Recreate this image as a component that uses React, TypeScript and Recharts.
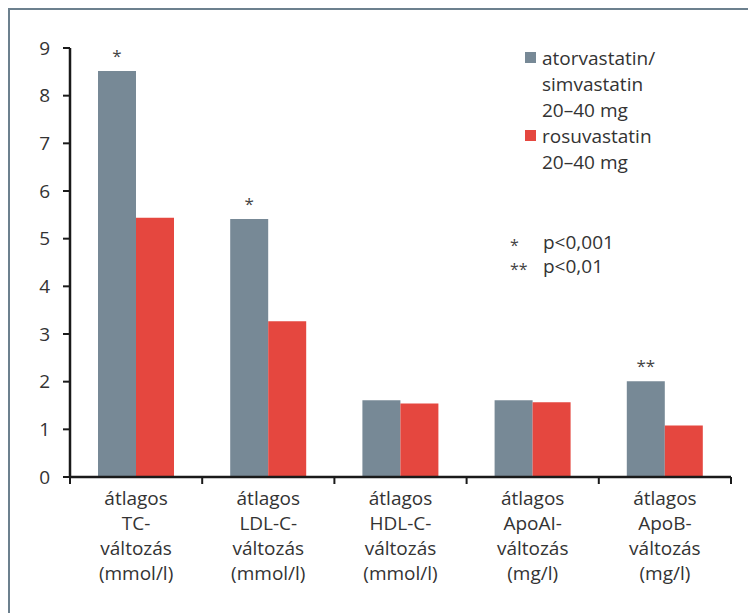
import React from 'react';
import { BarChart, Bar, XAxis, YAxis, Legend, LabelList } from 'recharts';

const categories = ['TC', 'LDL-C', 'HDL-C', 'ApoAI', 'ApoB'];
const categoryLabelLines = [
  ['átlagos', 'TC-', 'változás', '(mmol/l)'],
  ['átlagos', 'LDL-C-', 'változás', '(mmol/l)'],
  ['átlagos', 'HDL-C-', 'változás', '(mmol/l)'],
  ['átlagos', 'ApoAI-', 'változás', '(mg/l)'],
  ['átlagos', 'ApoB-', 'változás', '(mg/l)'],
];
const atorvaSimva = [8.52, 5.41, 1.61, 1.61, 2.01];
const rosuva = [5.44, 3.27, 1.54, 1.57, 1.08];
const significance = ['*', '*', '', '', '**'];
const yTicks = [0, 1, 2, 3, 4, 5, 6, 7, 8, 9];

const seriesNames = ['atorvastatin/\nsimvastatin\n20–40 mg', 'rosuvastatin\n20–40 mg'];
const pNotes = [
  ['*', 'p<0,001'],
  ['**', 'p<0,01'],
];

const GREY = '#778996';
const RED = '#e5473f';
const TEXT = '#333333';
const AXIS = '#1a1a1a';
const FONT = '"Open Sans", sans-serif';

const data = categories.map((c, i) => ({
  name: c,
  a: atorvaSimva[i],
  r: rosuva[i],
  sig: significance[i],
}));

const CategoryTick = (props: any) => {
  const { x, y, payload, index, width, visibleTicksCount } = props;
  const lines = categoryLabelLines[index] || [payload.value];
  const count = visibleTicksCount || categories.length;
  const half = Number(width) / count / 2;
  const isLast = index === count - 1;
  return (
    <g>
      {isFinite(half) && (
        <line x1={x - half} x2={x - half} y1={y} y2={y + 7} stroke={AXIS} strokeWidth={2} />
      )}
      {isFinite(half) && isLast && (
        <line x1={x + half} x2={x + half} y1={y} y2={y + 7} stroke={AXIS} strokeWidth={2} />
      )}
      <text x={x} y={y + 28} textAnchor="middle" fill={TEXT} fontSize={19} fontFamily={FONT}>
        {lines.map((l: string, i: number) => (
          <tspan key={i} x={x} dy={i === 0 ? 0 : 25}>
            {l}
          </tspan>
        ))}
      </text>
    </g>
  );
};

const SigLabel = (props: any) => {
  const { x, y, width, value } = props;
  if (!value) return null;
  return (
    <text x={x + width / 2} y={y - 9} textAnchor="middle" fill="#444" fontSize={17} fontFamily={FONT}>
      {value}
    </text>
  );
};

const LegendContent = () => {
  const colors = [GREY, RED];
  return (
    <div style={{ fontFamily: FONT, fontSize: 19, color: TEXT, lineHeight: '26px' }}>
      {seriesNames.map((n, i) => (
        <div key={i} style={{ display: 'flex', alignItems: 'flex-start' }}>
          <div
            style={{
              width: 11,
              height: 11,
              background: colors[i],
              marginLeft: 15,
              marginRight: 6,
              marginTop: 7,
              flexShrink: 0,
            }}
          />
          <div>
            {n.split('\n').map((l, j) => (
              <div key={j}>{l}</div>
            ))}
          </div>
        </div>
      ))}
      <div style={{ marginTop: 55, lineHeight: '24px' }}>
        {pNotes.map((p, i) => (
          <div key={i} style={{ display: 'flex' }}>
            <span style={{ width: 33, fontSize: 16, color: '#444', position: 'relative', top: 3 }}>{p[0]}</span>
            <span>{p[1]}</span>
          </div>
        ))}
      </div>
    </div>
  );
};

export default function App() {
  return (
    <div
      style={{
        position: 'relative',
        width: 748,
        height: 605,
        borderTop: '2px solid #6c808e',
        borderLeft: '2px solid #6c808e',
        boxSizing: 'border-box',
      }}
    >
      <BarChart
        width={736}
        height={595}
        data={data}
        margin={{ top: 38, right: 15, bottom: 18, left: 10 }}
        barGap={0}
        barSize={38}
      >
        <XAxis
          dataKey="name"
          height={110}
          axisLine={{ stroke: AXIS, strokeWidth: 2.5 }}
          tickLine={false}
          tickSize={0}
          tickMargin={0}
          tick={<CategoryTick />}
          interval={0}
        />
        <YAxis
          width={50}
          domain={[0, 9]}
          ticks={yTicks}
          interval={0}
          axisLine={{ stroke: AXIS, strokeWidth: 2.5 }}
          tickLine={{ stroke: AXIS, strokeWidth: 2 }}
          tickSize={7}
          tickMargin={13}
          tick={{ fill: TEXT, fontSize: 19, fontFamily: FONT }}
        />
        <Legend
          layout="vertical"
          align="center"
          verticalAlign="middle"
          wrapperStyle={{ left: 500, top: 35, width: 220 }}
          content={<LegendContent />}
        />
        <Bar dataKey="a" fill={GREY} isAnimationActive={false}>
          <LabelList dataKey="sig" content={<SigLabel />} />
        </Bar>
        <Bar dataKey="r" fill={RED} isAnimationActive={false} />
      </BarChart>
    </div>
  );
}
